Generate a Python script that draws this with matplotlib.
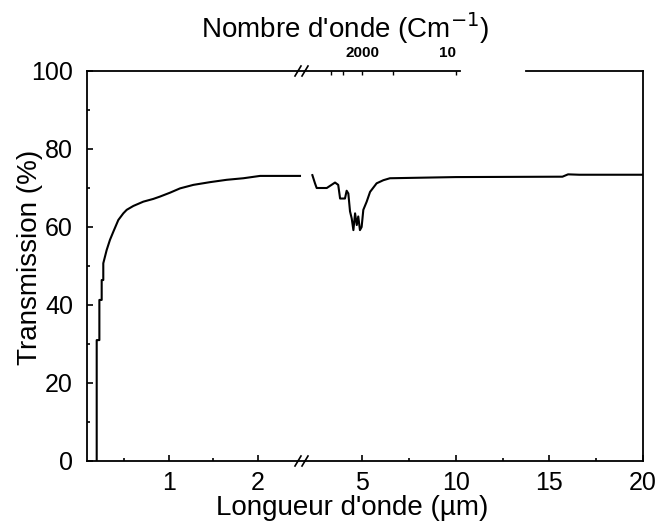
import matplotlib
matplotlib.use("Agg")
import matplotlib.pyplot as plt

plt.rcParams.update({
    "font.family": ["Liberation Sans", "DejaVu Sans"],
    "font.size": 18,
    "axes.linewidth": 1.3,
})

# transmission spectrum, short wavelengths (left panel, µm / %)
lam_short = [0.189, 0.189, 0.219, 0.219, 0.245, 0.245, 0.263, 0.263, 0.301,
             0.338, 0.376, 0.432, 0.488, 0.526, 0.601, 0.713, 0.825, 0.900,
             1.013, 1.125, 1.275, 1.462, 1.649, 1.837, 2.024, 2.473]
T_short = [0.0, 31.0, 31.0, 41.3, 41.3, 46.4, 46.4, 50.7, 54.1,
           56.7, 58.8, 61.8, 63.5, 64.4, 65.4, 66.5, 67.2, 67.8,
           68.8, 69.9, 70.8, 71.5, 72.1, 72.5, 73.1, 73.1]

# long wavelengths (right panel)
lam_long = [2.35, 2.49, 2.58, 3.12, 3.56, 3.73, 3.83, 4.09, 4.18, 4.27,
            4.36, 4.45, 4.54, 4.63, 4.72, 4.80, 4.89, 4.98, 5.07, 5.25,
            5.43, 5.78, 6.14, 6.49, 10.0, 15.7, 16.0, 16.6, 20.0]
T_long = [73.3, 71.2, 70.0, 70.0, 71.4, 70.8, 67.3, 67.3, 69.3, 68.6,
          64.0, 62.2, 59.2, 63.5, 60.5, 62.7, 59.2, 60.0, 64.4, 66.5,
          69.0, 71.2, 72.0, 72.5, 72.8, 72.9, 73.5, 73.4, 73.4]

# top axis: wavenumbers (cm-1)
wn_ticks = [3000, 2500, 2000, 1500, 1000]
wn_labels = ["", "", "2000", "", "10"]

fig = plt.figure(figsize=(6.56, 5.25), dpi=100)
ax_l = fig.add_axes([87 / 656, 1 - 461 / 525, 218 / 656, 390 / 525])
ax_r = fig.add_axes([305 / 656, 1 - 461 / 525, 338 / 656, 390 / 525])

ax_l.plot(lam_short, T_short, color="black", lw=1.5)
ax_r.plot(lam_long, T_long, color="black", lw=1.5)

ax_l.set_xlim(0.08, 0.08 + 218 / 89)
ax_r.set_xlim(5 - 57 / 18.73, 20)
for ax in (ax_l, ax_r):
    ax.set_ylim(0, 100)
    ax.tick_params(direction="in", length=4, width=1.2, labelsize=18,
                   which="major")
    ax.tick_params(axis="x", pad=7)
    ax.tick_params(axis="y", pad=10)
    ax.tick_params(direction="in", length=2, width=1.2, which="minor")

ax_l.set_xticks([1, 2])
ax_l.set_xticks([0.5, 1.5], minor=True)
ax_l.set_yticks([0, 20, 40, 60, 80, 100])
ax_l.set_yticks([10, 30, 50, 70, 90], minor=True)
ax_l.spines["right"].set_visible(False)

ax_r.set_xticks([5, 10, 15, 20])
ax_r.set_xticks([7.5, 12.5, 17.5], minor=True)
ax_r.set_yticks([])
ax_r.spines["left"].set_visible(False)
ax_r.spines["top"].set_visible(False)

# top spine of right panel with its gap
for x0, x1 in [(0.0, (460 - 305) / 338), ((526 - 305) / 338, 1.0)]:
    ax_r.plot([x0, x1], [1, 1], color="black", lw=1.3,
              transform=ax_r.transAxes, clip_on=False)

# top axis in wavenumber
ax_t = ax_r.twiny()
ax_t.set_xlim(ax_r.get_xlim())
ax_t.set_xticks([1e4 / w for w in wn_ticks])
ax_t.set_xticklabels(wn_labels, fontsize=11, fontweight="bold")
ax_t.tick_params(direction="in", length=3, width=1.0, pad=8)
for s in ax_t.spines.values():
    s.set_visible(False)
for lab in ax_t.get_xticklabels():
    if lab.get_text() == "10":
        lab.set_ha("right")

# break marks
for y in (0, 1):
    for dx in (-7, 0):
        xf = (305 + dx) / 656
        yf = 1 - (461 if y == 0 else 71) / 525
        fig.add_artist(plt.Line2D([xf - 3 / 656, xf + 3 / 656],
                                  [yf - 5 / 525, yf + 5 / 525],
                                  color="black", lw=1.2))

fig.text(0.537, 0.032, "Longueur d'onde (µm)", ha="center", va="center",
         fontsize=20)
fig.text(0.526, 0.947, "Nombre d'onde (Cm$^{-1}$)", ha="center",
         va="center", fontsize=20)
fig.text(0.046, 0.51, "Transmission (%)", ha="center", va="center",
         rotation=90, fontsize=20)

fig.savefig("out.png", dpi=100, facecolor="white")
